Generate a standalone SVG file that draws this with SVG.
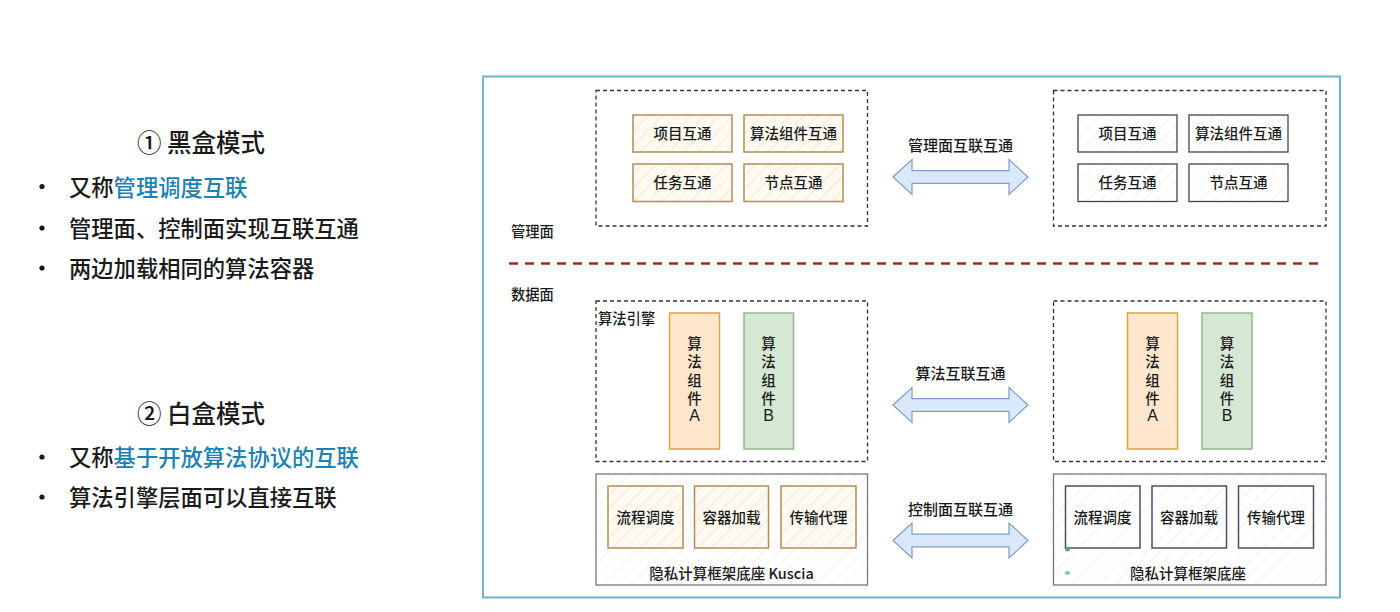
<svg xmlns="http://www.w3.org/2000/svg" width="1400" height="612" viewBox="0 0 1400 612">
  <defs>
    <style>
      text { font-family: "Liberation Sans", "Noto Sans CJK SC", sans-serif; fill: #1a1a1a; }
      .cjk { font-family: "Noto Sans CJK SC", "Liberation Sans", sans-serif; }
      .title { font-size: 24.5px; text-anchor: middle; dominant-baseline: central; font-weight: 500; }
      .bullet { font-size: 22.3px; dominant-baseline: central; font-weight: 500; }
      .dot { fill: #1a1a1a; }
      .hl { fill: #1c82b4; }
      .lbl { font-size: 14.3px; dominant-baseline: central; font-weight: 500; }
      .box-t { font-size: 14.5px; text-anchor: middle; dominant-baseline: central; font-weight: 500; }
      .vert { font-size: 14.5px; text-anchor: middle; font-weight: 500; }
      .lat { font-family: "Liberation Sans", sans-serif; font-size: 16px; font-weight: 400; }
      .arr-t { font-size: 15px; text-anchor: middle; dominant-baseline: central; font-weight: 500; }
      .dash { fill: none; stroke: #333; stroke-width: 1.3; stroke-dasharray: 4 3; }
      .tanbox { fill: url(#hatchTan); stroke: #b38d55; stroke-width: 1.5; }
      .graybox { fill: url(#hatchGray); stroke: #444; stroke-width: 1.3; }
      .slatebox { fill: url(#hatchGray); stroke: #4d4d66; stroke-width: 1.5; }
      .base { fill: url(#hatchGray); stroke: #777; stroke-width: 1.3; }
      .compA { fill: #ffe6cc; stroke: #d9a545; stroke-width: 1.5; }
      .compB { fill: #d5e8d4; stroke: #93b98a; stroke-width: 1.5; }
      .arrow { fill: #dae8fc; stroke: #7f9cc6; stroke-width: 1.2; }
    </style>
    <pattern id="hatchTan" width="10" height="10" patternUnits="userSpaceOnUse" patternTransform="rotate(45)">
      <rect width="10" height="10" fill="#fefaf1"/>
      <line x1="0" y1="0" x2="0" y2="10" stroke="#e8d9ba" stroke-width="1"/>
    </pattern>
    <pattern id="hatchGray" width="10" height="10" patternUnits="userSpaceOnUse" patternTransform="rotate(45)">
      <rect width="10" height="10" fill="#ffffff"/>
      <line x1="0" y1="0" x2="0" y2="10" stroke="#e6e6e6" stroke-width="1"/>
    </pattern>
  </defs>

  <rect x="0" y="0" width="1400" height="612" fill="#ffffff"/>

  <!-- Left text -->
  <g id="blackbox-text">
    <text class="title cjk" x="201" y="141">① 黑盒模式</text>
    <circle class="dot" cx="42" cy="186.5" r="2.6"/>
    <text class="bullet cjk" x="69" y="185.5">又称<tspan class="hl">管理调度互联</tspan></text>
    <circle class="dot" cx="42" cy="228" r="2.6"/>
    <text class="bullet cjk" x="69" y="227">管理面、控制面实现互联互通</text>
    <circle class="dot" cx="42" cy="268" r="2.6"/>
    <text class="bullet cjk" x="69" y="267">两边加载相同的算法容器</text>
  </g>
  <g id="whitebox-text">
    <text class="title cjk" x="201" y="412">② 白盒模式</text>
    <circle class="dot" cx="42" cy="457" r="2.6"/>
    <text class="bullet cjk" x="69" y="456">又称<tspan class="hl">基于开放算法协议的互联</tspan></text>
    <circle class="dot" cx="42" cy="497" r="2.6"/>
    <text class="bullet cjk" x="69" y="496">算法引擎层面可以直接互联</text>
  </g>

  <!-- Outer frame -->
  <g id="frame">
    <rect x="483" y="76.5" width="857" height="521" fill="none" stroke="#6fb3cf" stroke-width="2"/>
    <text class="lbl cjk" x="511" y="230.5">管理面</text>
    <text class="lbl cjk" x="511" y="293.5">数据面</text>
    <line x1="509" y1="263.5" x2="1320" y2="263.5" stroke="#a3262b" stroke-width="2.6" stroke-dasharray="9 7"/>
  </g>

  <!-- Management plane left -->
  <g id="mgmt-left">
    <rect class="dash" x="596" y="90.5" width="271.5" height="135.5"/>
    <rect class="tanbox" x="633" y="115" width="99" height="37"/>
    <text class="box-t cjk" x="682.5" y="132.5">项目互通</text>
    <rect class="tanbox" x="744" y="115" width="99" height="37"/>
    <text class="box-t cjk" x="793.5" y="132.5">算法组件互通</text>
    <rect class="tanbox" x="633" y="164" width="99" height="37.5"/>
    <text class="box-t cjk" x="682.5" y="181.5">任务互通</text>
    <rect class="tanbox" x="744" y="164" width="99" height="37.5"/>
    <text class="box-t cjk" x="793.5" y="181.5">节点互通</text>
  </g>

  <!-- Management plane right -->
  <g id="mgmt-right">
    <rect class="dash" x="1053.5" y="90.5" width="272.5" height="135.5"/>
    <rect class="graybox" x="1078" y="115" width="99" height="37"/>
    <text class="box-t cjk" x="1127.5" y="132.5">项目互通</text>
    <rect class="graybox" x="1189" y="115" width="99" height="37"/>
    <text class="box-t cjk" x="1238.5" y="132.5">算法组件互通</text>
    <rect class="graybox" x="1078" y="164" width="99" height="37.5"/>
    <text class="box-t cjk" x="1127.5" y="181.5">任务互通</text>
    <rect class="graybox" x="1189" y="164" width="99" height="37.5"/>
    <text class="box-t cjk" x="1238.5" y="181.5">节点互通</text>
  </g>

  <!-- Algorithm engine left -->
  <g id="engine-left">
    <rect class="dash" x="596" y="301" width="271.5" height="160.5"/>
    <text class="lbl cjk" x="598" y="317">算法引擎</text>
    <rect class="compA" x="669.5" y="313" width="50" height="136"/>
    <text class="vert cjk" x="694.5" y="349"><tspan x="694.5">算</tspan><tspan x="694.5" dy="18.3">法</tspan><tspan x="694.5" dy="18.3">组</tspan><tspan x="694.5" dy="18.3">件</tspan><tspan x="694.5" dy="17.5" class="lat">A</tspan></text>
    <rect class="compB" x="744" y="313" width="49.5" height="136"/>
    <text class="vert cjk" x="768.5" y="349"><tspan x="768.5">算</tspan><tspan x="768.5" dy="18.3">法</tspan><tspan x="768.5" dy="18.3">组</tspan><tspan x="768.5" dy="18.3">件</tspan><tspan x="768.5" dy="17.5" class="lat">B</tspan></text>
  </g>

  <!-- Algorithm engine right -->
  <g id="engine-right">
    <rect class="dash" x="1053.5" y="301" width="272.5" height="160.5"/>
    <rect class="compA" x="1127.5" y="313" width="50" height="136"/>
    <text class="vert cjk" x="1152.5" y="349"><tspan x="1152.5">算</tspan><tspan x="1152.5" dy="18.3">法</tspan><tspan x="1152.5" dy="18.3">组</tspan><tspan x="1152.5" dy="18.3">件</tspan><tspan x="1152.5" dy="17.5" class="lat">A</tspan></text>
    <rect class="compB" x="1202" y="313" width="50" height="136"/>
    <text class="vert cjk" x="1227" y="349"><tspan x="1227">算</tspan><tspan x="1227" dy="18.3">法</tspan><tspan x="1227" dy="18.3">组</tspan><tspan x="1227" dy="18.3">件</tspan><tspan x="1227" dy="17.5" class="lat">B</tspan></text>
  </g>

  <!-- Base left -->
  <g id="base-left">
    <rect class="base" x="596" y="474" width="271.5" height="111"/>
    <rect class="tanbox" x="608" y="486" width="75" height="62"/>
    <text class="box-t cjk" x="645.5" y="516">流程调度</text>
    <rect class="tanbox" x="694.5" y="486" width="74" height="62"/>
    <text class="box-t cjk" x="731.5" y="516">容器加载</text>
    <rect class="tanbox" x="781" y="486" width="75" height="62"/>
    <text class="box-t cjk" x="818.5" y="516">传输代理</text>
    <text class="box-t cjk" x="731.5" y="572.5">隐私计算框架底座 Kuscia</text>
  </g>

  <!-- Base right -->
  <g id="base-right">
    <rect class="base" x="1053.5" y="474" width="272.5" height="111"/>
    <rect class="slatebox" x="1065.5" y="486" width="74.5" height="62"/>
    <text class="box-t cjk" x="1102.5" y="516">流程调度</text>
    <rect class="slatebox" x="1152" y="486" width="74.5" height="62"/>
    <text class="box-t cjk" x="1189" y="516">容器加载</text>
    <rect class="slatebox" x="1238.5" y="486" width="75" height="62"/>
    <text class="box-t cjk" x="1276" y="516">传输代理</text>
    <text class="box-t cjk" x="1188" y="572.5">隐私计算框架底座</text>
    <ellipse cx="1067.5" cy="549.5" rx="2.5" ry="2" fill="#4fa98f"/>
    <ellipse cx="1067.5" cy="573" rx="2.5" ry="2" fill="#7fc3ae"/>
  </g>

  <!-- Connectors -->
  <g id="connectors">
    <path class="arrow" d="M893,177 L912,159.5 L912,170.7 L1009,170.7 L1009,159.5 L1028,177 L1009,194.5 L1009,183.3 L912,183.3 L912,194.5 Z"/>
    <text class="arr-t cjk" x="960.5" y="144">管理面互联互通</text>
    <path class="arrow" d="M893,405 L912,387.5 L912,398.7 L1009,398.7 L1009,387.5 L1028,405 L1009,422.5 L1009,411.3 L912,411.3 L912,422.5 Z"/>
    <text class="arr-t cjk" x="960.5" y="372.5">算法互联互通</text>
    <path class="arrow" d="M893,540.5 L912,523 L912,534.2 L1009,534.2 L1009,523 L1028,540.5 L1009,558 L1009,546.8 L912,546.8 L912,558 Z"/>
    <text class="arr-t cjk" x="960.5" y="508">控制面互联互通</text>
  </g>
</svg>
